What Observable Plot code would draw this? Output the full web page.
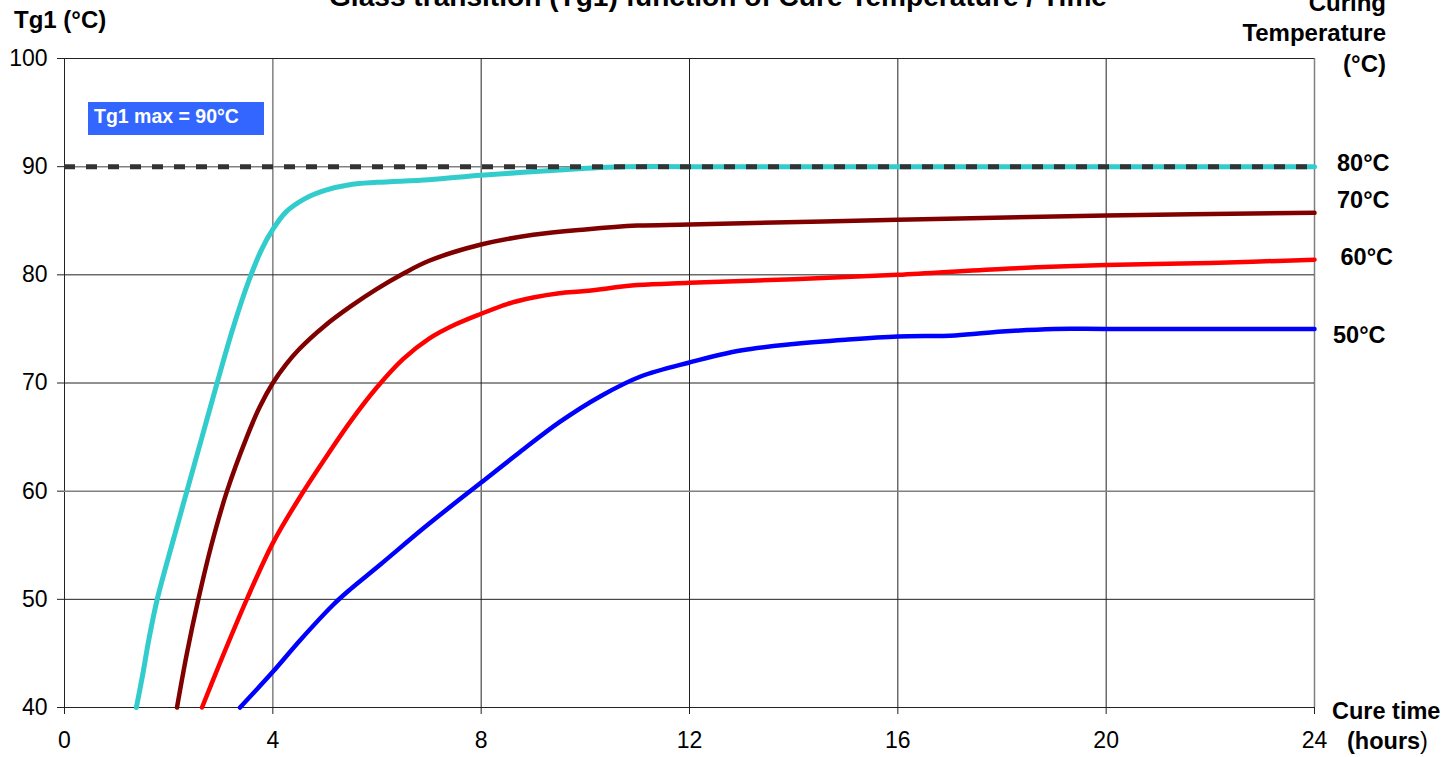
<!DOCTYPE html>
<html><head><meta charset="utf-8">
<script src="https://cdn.jsdelivr.net/npm/d3@7"></script>
<script src="https://cdn.jsdelivr.net/npm/@observablehq/plot@0.6"></script>
<style>
body{margin:0;background:#fff;}
#wrap{position:relative;width:1447px;height:757px;overflow:hidden;}
#box{position:absolute;left:88px;top:102px;width:176px;height:33px;background:#3366FF;color:#fff;font:bold 19.5px "Liberation Sans",Arial,sans-serif;line-height:28px;padding-left:6px;box-sizing:border-box;white-space:nowrap;}
</style></head>
<body><div id="wrap"><div id="box">Tg1 max = 90°C</div></div>
<script>
// ---- data ----
const xTicks = [0, 4, 8, 12, 16, 20, 24];
const yTicks = [40, 50, 60, 70, 80, 90, 100];
const tgMax = 90;

const hours80 = [1.38, 1.5, 1.62, 1.78, 2.06, 2.35, 2.64, 2.93, 3.23, 3.55, 3.8, 4.0, 4.25, 4.6, 5.0, 5.5, 6.0, 7.0, 8.0, 9.5, 10.7, 12, 16, 20, 24];
const tg80    = [40, 43, 46.3, 50, 55, 60, 65, 70, 75, 79.6, 82.5, 84.2, 85.8, 87.0, 87.8, 88.35, 88.55, 88.8, 89.2, 89.7, 90, 90, 90, 90, 90];

const hours70 = [2.16, 2.35, 2.57, 2.82, 3.12, 3.5, 3.75, 4.0, 4.25, 4.5, 5.0, 5.5, 6.0, 6.5, 7.0, 8.0, 9.0, 10, 11, 12, 16, 20, 24];
const tg70    = [40, 45, 50, 55, 60, 65, 67.8, 70, 71.7, 73.1, 75.3, 77.1, 78.7, 80.1, 81.3, 82.8, 83.7, 84.2, 84.55, 84.65, 85.09, 85.49, 85.73];

const hours60 = [2.64, 3.0, 3.5, 4.0, 4.5, 5.0, 5.5, 6.0, 6.5, 7.0, 7.5, 8.0, 8.5, 9.0, 9.5, 10, 11, 12, 14, 16, 18, 20, 22, 24];
const tg60    = [40, 44.3, 50, 55.2, 59.3, 63, 66.5, 69.6, 72.2, 74.1, 75.4, 76.4, 77.3, 77.9, 78.3, 78.5, 79.05, 79.26, 79.6, 80.0, 80.55, 80.9, 81.1, 81.4];

const hours50 = [3.37, 4.0, 4.52, 5.16, 5.48, 6.06, 6.95, 8.0, 8.74, 9.51, 10.3, 11.06, 12, 12.98, 14, 15, 16, 17.1, 18, 19, 20, 24];
const tg50    = [40, 43.3, 46.2, 49.5, 50.9, 53.2, 56.8, 60.8, 63.6, 66.4, 68.8, 70.6, 71.9, 73.0, 73.6, 74.0, 74.3, 74.4, 74.76, 75.0, 75.0, 75.0];

const seriesLabels = ["80°C", "70°C", "60°C", "50°C"];
const seriesColors = ["#33CCCC", "#800000", "#FF0000", "#0000FF"];

// ---- build ----
const toRows = (h, v) => h.map((x, i) => ({h: x, v: v[i]}));
const rows = [toRows(hours80, tg80), toRows(hours70, tg70), toRows(hours60, tg60), toRows(hours50, tg50)];

const greyX = new Set([4, 24]);
const greyY = new Set([60, 90]);
const font = '"Liberation Sans", Arial, sans-serif';

const chart = Plot.plot({
  width: 1447, height: 757,
  marginLeft: 64, marginRight: 133, marginTop: 58, marginBottom: 50,
  style: {fontFamily: font, fontSize: "23px", color: "#000", background: "#fff"},
  x: {domain: [0, 24]},
  y: {domain: [40, 100]},
  marks: [
    Plot.ruleX(xTicks, {x: d => d, stroke: d => greyX.has(d) ? "#808080" : "#222", strokeWidth: d => greyX.has(d) ? 1.5 : 1}),
    Plot.ruleY(yTicks, {y: d => d, stroke: d => greyY.has(d) ? "#808080" : "#222", strokeWidth: d => greyY.has(d) ? 1.5 : 1}),
    Plot.axisX({ticks: xTicks, tickSize: 7, tickPadding: 17, tickFormat: d => d, label: null, stroke: "#222"}),
    Plot.axisY({ticks: yTicks, tickSize: 7, tickPadding: 10, tickFormat: d => d, label: null, stroke: "#222"}),
    ...rows.map((r, i) => Plot.line(r, {x: "h", y: "v", stroke: seriesColors[i], strokeWidth: i === 0 ? 5 : 4.5, curve: "catmull-rom"})),
    Plot.ruleY([tgMax], {x1: xTicks[0], x2: xTicks[xTicks.length - 1], stroke: "#333", strokeWidth: 5, strokeDasharray: "11,11"})
  ]
});
chart.style.position = "absolute";
chart.style.left = "0px";
chart.style.top = "0px";
document.getElementById("wrap").prepend(chart);

// ---- annotations ----
const svg = d3.select(chart);
const g = svg.append("g").attr("font-family", font).attr("font-weight", "bold").attr("fill", "#000");
const txt = (s, x, y, size, anchor) => g.append("text").attr("x", x).attr("y", y).attr("font-size", size).attr("text-anchor", anchor || "start").text(s);

txt("Glass transition (Tg1) function of Cure Temperature / Time", 718, 6, 27.5, "middle").attr("textLength", 778).attr("lengthAdjust", "spacingAndGlyphs");
txt("Tg1 (°C)", 14, 28, 24);
txt("Curing", 1386, 11, 24, "end");
txt("Temperature", 1386, 41, 24, "end");
txt("(°C)", 1386, 71.5, 24, "end");
const labelPos = [[1337, 170.5], [1337, 208], [1340.5, 264.5], [1333, 343]];
seriesLabels.forEach((s, i) => txt(s, labelPos[i][0], labelPos[i][1], 23.5));
txt("Cure time", 1332, 719, 23.5);
const hrs = txt("(hours", 1347, 749, 23.5);
hrs.append("tspan").attr("font-weight", "normal").text(")");
</script>
</body></html>
